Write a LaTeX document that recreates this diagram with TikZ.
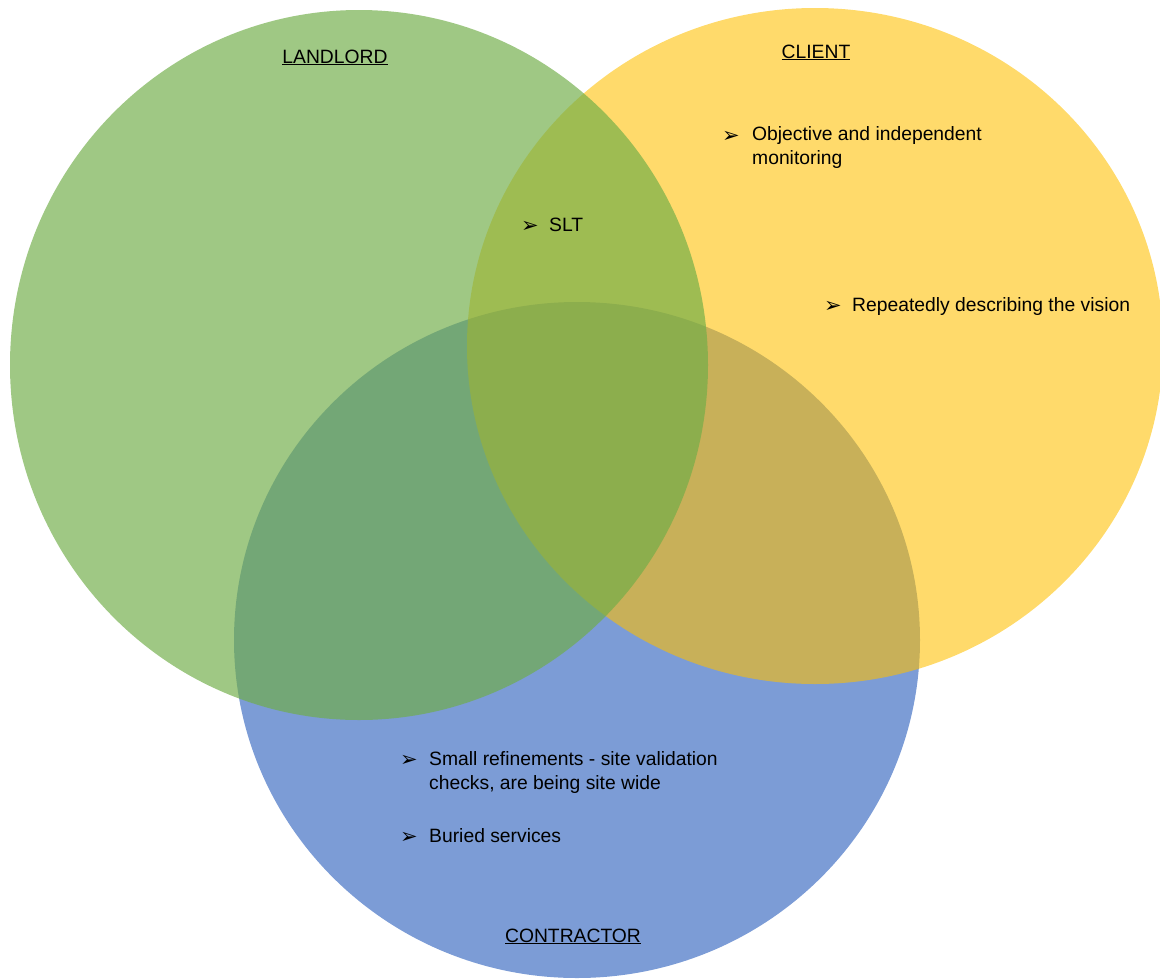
\documentclass[tikz,border=0pt]{standalone}
\usepackage{fontspec}
\setmainfont{Liberation Sans}
\newfontfamily\dingfont{DejaVu Sans}
\usepackage{tikz}

\definecolor{landlordgreen}{HTML}{70AD47}
\definecolor{clientyellow}{HTML}{FFC000}
\definecolor{contractorblue}{HTML}{4472C4}

\begin{document}
\begin{tikzpicture}[x=1pt,y=-1pt,
    heading/.style={anchor=base, inner sep=0pt, font=\fontsize{19.3}{23}\selectfont},
    arrowbullet/.style={anchor=base west, inner sep=0pt, font=\dingfont\fontsize{21}{24}\selectfont},
    item/.style={anchor=base west, inner sep=0pt, align=left, font=\fontsize{19.3}{23.5}\selectfont}]

        \useasboundingbox (0,0) rectangle (1160,978);

        % the three sets, back to front
        \fill[contractorblue, fill opacity=0.7] (577,640) ellipse [x radius=343, y radius=338];
        \fill[clientyellow, fill opacity=0.58] (815,346) ellipse [x radius=348, y radius=338];
        \fill[landlordgreen, fill opacity=0.67] (359,365) ellipse [x radius=349, y radius=355];

        % set names
        \node[heading] (landlord)   at (335,63)  {\underline{LANDLORD}};
        \node[heading] (client)     at (816,58)  {\underline{CLIENT}};
        \node[heading] (contractor) at (573,942) {\underline{CONTRACTOR}};

        % client (base of a two line item is its last line)
        \node[arrowbullet] (obj_b) at (722,142) {➢};
        \node[item] (obj) at (752,164) {Objective and independent\\monitoring};
        \node[arrowbullet] (vision_b) at (824,312) {➢};
        \node[item] (vision) at (852,311) {Repeatedly describing the vision};

        % landlord and client
        \node[arrowbullet] (slt_b) at (521,232) {➢};
        \node[item] (slt) at (549,231) {SLT};

        % contractor
        \node[arrowbullet] (refine_b) at (400,766) {➢};
        \node[item] (refine) at (429,789) {Small refinements - site validation\\checks, are being site wide};
        \node[arrowbullet] (buried_b) at (400,843) {➢};
        \node[item] (buried) at (429,842) {Buried services};

\end{tikzpicture}
\end{document}
